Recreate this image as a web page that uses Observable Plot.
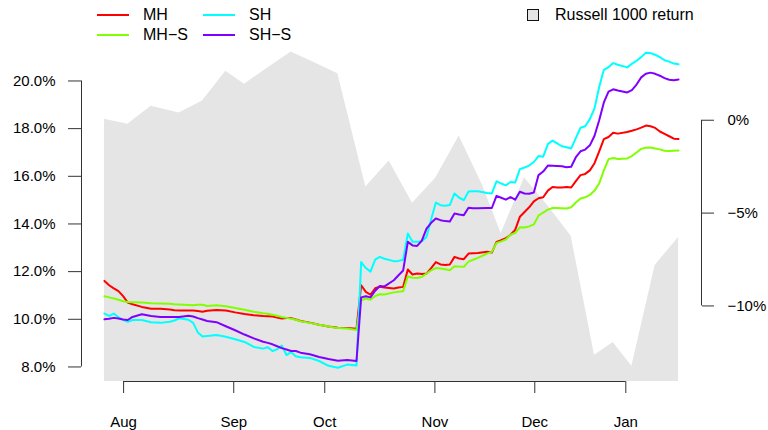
<!DOCTYPE html>
<html><head><meta charset="utf-8">
<script src="https://cdn.jsdelivr.net/npm/d3@7"></script>
<script src="https://cdn.jsdelivr.net/npm/@observablehq/plot@0.6"></script>
<style>
body{margin:0;background:#fff;font-family:"Liberation Sans",Arial,sans-serif;}
#wrap{position:relative;width:768px;height:430px;overflow:hidden;}
.lt{position:absolute;font-size:16px;line-height:16px;color:#000;white-space:nowrap;}
.sw{position:absolute;height:2px;width:32px;}
.box{position:absolute;width:12px;height:12px;box-sizing:border-box;border:1.5px solid #111;background:#e5e5e5;}
</style></head><body><div id="wrap"></div>
<script>
// trading-day index of each observation
const days = [0,1,2,3,4,5,6,8,10,12,14,15,16,18,19,20,21,22,24,26,28,30,32,34,35,36,37,38,39,40,41,42,44,46,48,50,52,54,
55,56,57,58,59,60,62,63,64,65,66,67,68,69,70,71,72,73,74,75,76,77,78,79,80,
82,83,84,85,86,87,88,89,90,91,92,93,94,95,96,97,98,99,100,101,102,103,104,105,106,107,108,109,110,
112,113,114,115,116,117,118,119,120,121,122,123];

const MH = [11.61,11.43,11.30,11.18,10.97,10.70,10.63,10.52,10.44,10.44,10.41,10.38,10.37,10.37,10.37,10.35,10.32,10.36,10.39,10.37,10.29,10.22,10.17,10.14,10.13,10.12,10.07,10.03,10.05,10.05,9.99,9.93,9.86,9.77,9.70,9.65,9.63,9.60,
11.43,11.15,11.03,11.30,11.37,11.33,11.29,11.33,11.36,12.09,11.88,11.92,11.90,11.92,12.15,12.40,12.30,12.28,12.30,12.62,12.55,12.52,12.76,12.77,12.78,
12.83,12.80,13.25,13.32,13.40,13.55,13.75,14.30,14.50,14.70,14.95,15.08,15.12,15.40,15.55,15.53,15.53,15.55,15.53,15.80,16.05,16.10,16.25,16.55,17.05,17.56,17.65,17.83,17.79,
17.86,17.91,17.97,18.04,18.13,18.10,18.03,17.88,17.78,17.68,17.58,17.57];

const MHS = [10.97,10.92,10.87,10.82,10.76,10.73,10.72,10.70,10.67,10.66,10.65,10.63,10.62,10.60,10.59,10.61,10.61,10.56,10.59,10.55,10.47,10.40,10.32,10.25,10.23,10.19,10.15,10.10,10.06,10.02,9.98,9.92,9.85,9.77,9.70,9.63,9.61,9.55,
10.80,10.87,10.82,10.98,11.05,11.04,11.13,11.16,11.18,11.80,11.74,11.73,11.78,11.92,12.05,12.15,12.13,12.10,12.06,12.23,12.21,12.20,12.42,12.50,12.58,
12.76,12.83,13.20,13.27,13.35,13.55,13.62,13.86,13.85,13.90,13.98,14.35,14.48,14.60,14.67,14.67,14.66,14.65,14.70,14.90,15.07,15.12,15.22,15.40,15.70,16.25,16.72,16.77,16.73,
16.75,16.85,17.00,17.15,17.20,17.21,17.17,17.13,17.07,17.06,17.07,17.08];

const SH = [10.24,10.14,10.24,10.08,9.98,9.89,9.97,9.97,9.88,9.85,9.90,9.95,10.04,9.98,9.85,9.45,9.28,9.30,9.34,9.27,9.16,9.05,8.84,8.77,8.83,8.67,8.74,8.90,8.50,8.62,8.45,8.41,8.38,8.25,8.05,7.97,8.10,8.06,
12.40,12.15,12.00,12.50,12.62,12.54,12.44,12.45,12.50,13.60,13.25,13.25,13.28,13.45,14.20,14.90,14.79,14.76,14.80,15.28,15.10,15.00,15.36,15.37,15.37,
15.30,15.28,15.79,15.70,15.62,15.76,15.74,16.30,16.37,16.45,16.60,16.85,16.82,17.35,17.50,17.38,17.26,17.22,17.17,17.60,18.04,18.10,18.40,18.85,19.75,20.47,20.58,20.75,20.68,
20.57,20.72,20.85,21.00,21.18,21.17,21.10,21.00,20.87,20.81,20.73,20.70];

const SHS = [10.00,10.02,10.06,10.03,9.99,9.97,10.10,10.21,10.14,10.10,10.10,10.10,10.10,10.15,10.12,10.05,9.99,9.93,9.88,9.71,9.54,9.36,9.20,9.06,9.01,8.95,8.87,8.79,8.73,8.67,8.67,8.60,8.53,8.42,8.33,8.26,8.29,8.25,
10.92,10.97,10.92,11.20,11.40,11.38,11.64,11.85,12.05,13.25,13.10,13.08,13.30,13.80,14.05,14.23,14.16,14.12,14.10,14.44,14.40,14.37,14.68,14.66,14.66,
14.67,14.67,15.18,15.10,15.02,15.13,15.02,15.35,15.28,15.27,15.32,16.05,16.20,16.45,16.44,16.43,16.42,16.38,16.40,16.80,17.05,17.12,17.30,17.70,18.35,19.10,19.55,19.65,19.60,
19.52,19.62,19.85,20.15,20.30,20.35,20.30,20.22,20.12,20.05,20.03,20.06];

// Russell 1000 return (%), weekly
const russellDays = [0,5,10,16,21,26,30,35,40,45,50,56,61,66,71,76,81,85,90,95,100,105,109,113,118,123];
const russellRet = [0.05,-0.22,0.75,0.39,1.04,2.64,1.94,2.82,3.68,3.10,2.51,-3.59,-2.19,-4.47,-3.11,-0.85,-3.50,-6.10,-3.09,-4.60,-6.25,-12.65,-11.97,-13.25,-7.81,-6.32];

const seriesNames = ["MH","MH\u2212S","SH","SH\u2212S"];
const seriesColors = ["#FF0000","#80FF00","#00FFFF","#8000FF"];
const leftTicks = [8,10,12,14,16,18,20];
const rightTicks = [0,-5,-10];
const monthDays = [4.1,27.7,47.2,70.8,92.2,111.7];
const monthLabels = ["Aug","Sep","Oct","Nov","Dec","Jan"];

// secondary (right) axis alignment onto the left scale
const rZero = 18.352, rScale = 0.7792;
const toLeft = r => rZero + rScale * r;

const allSeries = [MH, MHS, SH, SHS];
const rows = allSeries.flatMap((vals, k) => days.map((t, i) => ({t, v: vals[i], name: seriesNames[k]})));
const russell = russellDays.map((t, i) => ({t, r: russellRet[i]}));

const tMin = d3.min(days), tMax = d3.max(days);
const pad = 0.04 * (tMax - tMin);
const xLo = tMin - pad, xHi = tMax + pad;
const yLo = 7.39, yHi = 21.74;

const fmtSigned = r => (r < 0 ? "\u2212" : "") + Math.abs(r) + "%";

const chart = Plot.plot({
  width: 768, height: 430,
  marginTop: 39, marginBottom: 49, marginLeft: 81, marginRight: 67,
  style: {fontFamily: '"Liberation Sans", Arial, sans-serif', fontSize: "15px", background: "white", color: "black"},
  x: {domain: [xLo, xHi]},
  y: {domain: [yLo, yHi]},
  color: {domain: seriesNames, range: seriesColors},
  marks: [
    Plot.areaY(russell, {x: "t", y1: () => yLo, y2: d => toLeft(d.r), fill: "#e5e5e5", curve: "linear"}),
    Plot.line(rows, {x: "t", y: "v", z: "name", stroke: "name", strokeWidth: 2}),
    Plot.ruleX([xLo], {y1: leftTicks[0], y2: leftTicks[leftTicks.length - 1], stroke: "#333"}),
    Plot.axisY({ticks: leftTicks, tickFormat: d => d.toFixed(1) + "%", tickSize: 13, tickPadding: 13, stroke: "#333", label: null}),
    Plot.ruleX([xHi], {y1: toLeft(d3.min(rightTicks)), y2: toLeft(d3.max(rightTicks)), stroke: "#333"}),
    Plot.axisY({anchor: "right", ticks: rightTicks.map(toLeft),
      tickFormat: d => fmtSigned(rightTicks[rightTicks.findIndex(r => Math.abs(toLeft(r) - d) < 1e-6)]),
      tickSize: 12, tickPadding: 14, stroke: "#333", label: null}),
    Plot.ruleY([yLo], {x1: monthDays[0], x2: monthDays[monthDays.length - 1], stroke: "#333"}),
    Plot.axisX({ticks: monthDays, tickFormat: d => monthLabels[monthDays.indexOf(d)], tickSize: 12, tickPadding: 23, stroke: "#333", label: null})
  ]
});

const wrap = document.getElementById("wrap");
wrap.appendChild(chart);

// legend (two columns, filled column-wise), drawn over the top of the chart
const colLeft = [97, 203], rowTop = [15, 35];
seriesNames.forEach((name, k) => {
  const col = Math.floor(k / 2), row = k % 2;
  const sw = document.createElement("div");
  sw.className = "sw";
  sw.style.left = colLeft[col] + "px";
  sw.style.top = (rowTop[row] - 1) + "px";
  sw.style.background = seriesColors[k];
  wrap.appendChild(sw);
  const tx = document.createElement("div");
  tx.className = "lt";
  tx.style.left = (colLeft[col] + 46) + "px";
  tx.style.top = (rowTop[row] - 8) + "px";
  tx.textContent = name;
  wrap.appendChild(tx);
});
const box = document.createElement("div");
box.className = "box";
box.style.left = "527px"; box.style.top = "9px";
wrap.appendChild(box);
const rt = document.createElement("div");
rt.className = "lt";
rt.style.left = "555px"; rt.style.top = "7px";
rt.textContent = "Russell 1000 return";
wrap.appendChild(rt);
</script>
</body></html>
